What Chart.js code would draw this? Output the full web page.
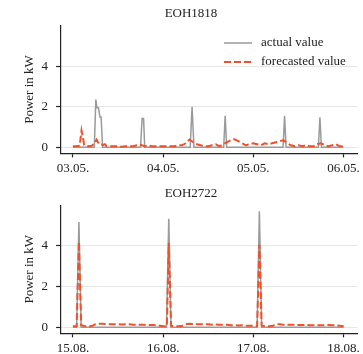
<!DOCTYPE html>
<html>
<head>
<meta charset="utf-8">
<script src="https://cdn.jsdelivr.net/npm/chart.js@4"></script>
<style>
  body { margin: 0; background: #fff; }
  canvas { display: block; }
</style>
</head>
<body>
<canvas id="canvas-eoh1818" width="363" height="177"></canvas>
<canvas id="canvas-eoh2722" width="363" height="177"></canvas>
<script>
// x values are hours after midnight of the first day
const dayTicks = [0, 24, 48, 72];
const labelsEoh1818 = ["03.05.", "04.05.", "05.05.", "06.05."];
const labelsEoh2722 = ["15.08.", "16.08.", "17.08.", "18.08."];
const powerTicks = [0, 2, 4];

const actualHours1818 = [0, 5.7, 6.1, 6.4, 6.8, 7.2, 7.5, 7.9, 18.0, 18.4, 18.8, 19.1, 31.2, 31.7, 32.2, 40.1, 40.5, 40.9, 55.9, 56.3, 56.7, 65.3, 65.7, 66.1, 72];
const actualKw1818 = [0, 0, 2.35, 1.95, 1.95, 1.5, 1.5, 0, 0, 1.42, 1.42, 0, 0, 2.0, 0, 0, 1.55, 0, 0, 1.55, 0, 0, 1.48, 0, 0];

const forecastHours1818 = [0, 1, 1.8, 2.3, 2.6, 3, 4, 5, 5.8, 6.3, 7, 8, 8.5, 9, 10, 11, 12, 13, 14, 15, 16, 17, 18, 19, 20, 21, 22, 23, 24, 25, 26, 27, 28, 29, 30, 31, 32, 33, 34, 35, 36, 37, 38, 39, 40, 41, 42, 43, 44, 45, 46, 47, 48, 49, 50, 51, 52, 53, 54, 55, 56, 57, 58, 59, 60, 61, 62, 63, 64, 65, 66, 67, 68, 69, 70, 71, 72];
const forecastKw1818 = [0.05, 0.05, 0.08, 0.83, 0.55, 0.12, 0.05, 0.08, 0.2, 0.38, 0.15, 0.12, 0.15, 0.05, 0.05, 0.05, 0.05, 0.03, 0.05, 0.05, 0.05, 0.1, 0.12, 0.05, 0.1, 0.05, 0.05, 0.05, 0.05, 0.05, 0.05, 0.05, 0.1, 0.1, 0.2, 0.38, 0.25, 0.15, 0.1, 0.05, 0.05, 0.1, 0.15, 0.05, 0.15, 0.25, 0.35, 0.4, 0.3, 0.2, 0.1, 0.15, 0.2, 0.15, 0.1, 0.2, 0.15, 0.2, 0.25, 0.3, 0.35, 0.2, 0.1, 0.05, 0.1, 0.05, 0.1, 0.05, 0.05, 0.15, 0.2, 0.1, 0.05, 0.1, 0.15, 0.05, 0.05];

const actualHours2722 = [0, 1.0, 1.6, 2.2, 24.9, 25.5, 26.1, 49.0, 49.6, 50.2, 72];
const actualKw2722 = [0, 0, 5.17, 0, 0, 5.33, 0, 0, 5.7, 0, 0];

const forecastHours2722 = [0, 1, 1.6, 2.2, 3, 4, 5, 6, 7, 8, 9, 10, 11, 12, 13, 14, 15, 16, 17, 18, 19, 20, 21, 22, 23, 24, 25, 25.5, 26.1, 27, 28, 29, 30, 31, 32, 33, 34, 35, 36, 37, 38, 39, 40, 41, 42, 43, 44, 45, 46, 47, 48, 49, 49.6, 50.2, 51, 52, 53, 54, 55, 56, 57, 58, 59, 60, 61, 62, 63, 64, 65, 66, 67, 68, 69, 70, 71, 72];
const forecastKw2722 = [0.05, 0.05, 4.2, 0.1, 0.06, 0.05, 0.06, 0.15, 0.17, 0.17, 0.15, 0.15, 0.15, 0.15, 0.14, 0.15, 0.15, 0.13, 0.13, 0.12, 0.12, 0.11, 0.11, 0.1, 0.08, 0.06, 0.05, 4.15, 0.08, 0.06, 0.05, 0.06, 0.15, 0.17, 0.16, 0.15, 0.15, 0.14, 0.15, 0.13, 0.14, 0.12, 0.12, 0.12, 0.1, 0.1, 0.09, 0.1, 0.08, 0.08, 0.07, 0.05, 4.05, 0.08, 0.06, 0.05, 0.06, 0.14, 0.15, 0.13, 0.13, 0.12, 0.12, 0.11, 0.11, 0.12, 0.1, 0.1, 0.1, 0.1, 0.1, 0.11, 0.1, 0.09, 0.08, 0.05];

const serif = "'Liberation Serif', 'Times New Roman', serif";
const textColor = "#222222";

const legendInside = {
  id: "legendInside",
  afterDraw(chart) {
    const ctx = chart.ctx;
    chart.data.datasets.forEach(function (ds, i) {
      const y = 43 + i * 19;
      ctx.save();
      ctx.strokeStyle = ds.borderColor;
      ctx.lineWidth = ds.borderWidth;
      ctx.setLineDash(ds.borderDash || []);
      ctx.beginPath();
      ctx.moveTo(224, y);
      ctx.lineTo(252, y);
      ctx.stroke();
      ctx.setLineDash([]);
      ctx.fillStyle = textColor;
      ctx.font = "13px " + serif;
      ctx.textBaseline = "middle";
      ctx.fillText(ds.label, 261, y);
      ctx.restore();
    });
  },
};

function toPoints(hours, values) {
  return hours.map((h, i) => ({ x: h, y: values[i] }));
}

function createGrafico(canvasId, title, dayLabels, actual, forecast, pad, tickPad, withLegend) {
  const data = {
    datasets: [
      {
        label: "actual value",
        data: actual,
        borderColor: "#9a9a9a",
        borderWidth: 1.5,
        pointRadius: 0,
        order: 1,
      },
      {
        label: "forecasted value",
        data: forecast,
        borderColor: "#f0502a",
        borderWidth: 2,
        borderDash: [7, 3],
        pointRadius: 0,
        order: 0,
      },
    ],
  };

  const config = {
    type: "line",
    data: data,
    options: {
      responsive: false,
      animation: false,
      devicePixelRatio: 1,
      layout: { padding: pad },
      plugins: {
        legend: { display: false },
        tooltip: { enabled: false },
        title: {
          display: true,
          text: title,
          color: textColor,
          font: { family: serif, size: 13, weight: "normal" },
          padding: { top: 6, bottom: 4 },
        },
      },
      scales: {
        x: {
          type: "linear",
          min: -3.4,
          max: 75.7,
          afterBuildTicks: (axis) => {
            axis.ticks = dayTicks.map((v) => ({ value: v }));
          },
          ticks: {
            callback: (v) => dayLabels[dayTicks.indexOf(v)],
            color: textColor,
            font: { family: serif, size: 13 },
            padding: tickPad,
            maxRotation: 0,
            autoSkip: false,
          },
          grid: {
            drawOnChartArea: false,
            drawTicks: true,
            tickLength: 4,
            tickColor: textColor,
            tickWidth: 1.2,
          },
          border: { display: true, color: textColor, width: 1.2 },
        },
        y: {
          min: -0.3,
          max: 6,
          afterBuildTicks: (axis) => {
            axis.ticks = powerTicks.map((v) => ({ value: v }));
          },
          ticks: {
            color: textColor,
            font: { family: serif, size: 13 },
            padding: 8,
          },
          grid: {
            color: "#e6e6e6",
            lineWidth: 1,
            tickLength: 4,
            tickColor: textColor,
            tickWidth: 1.2,
          },
          border: { display: true, color: textColor, width: 1.2 },
          title: {
            display: true,
            text: "Power in kW",
            color: textColor,
            font: { family: serif, size: 13 },
            padding: { top: 0, bottom: -4 },
          },
        },
      },
    },
    plugins: withLegend ? [legendInside] : [],
  };

  new Chart(document.getElementById(canvasId), config);
}

createGrafico(
  "canvas-eoh1818",
  "EOH1818",
  labelsEoh1818,
  toPoints(actualHours1818, actualKw1818),
  toPoints(forecastHours1818, forecastKw1818),
  { top: 0, left: 22, right: 3, bottom: -2 },
  3,
  true
);
createGrafico(
  "canvas-eoh2722",
  "EOH2722",
  labelsEoh2722,
  toPoints(actualHours2722, actualKw2722),
  toPoints(forecastHours2722, forecastKw2722),
  { top: 2.5, left: 22, right: 3, bottom: -5 },
  3,
  false
);
</script>
</body>
</html>
